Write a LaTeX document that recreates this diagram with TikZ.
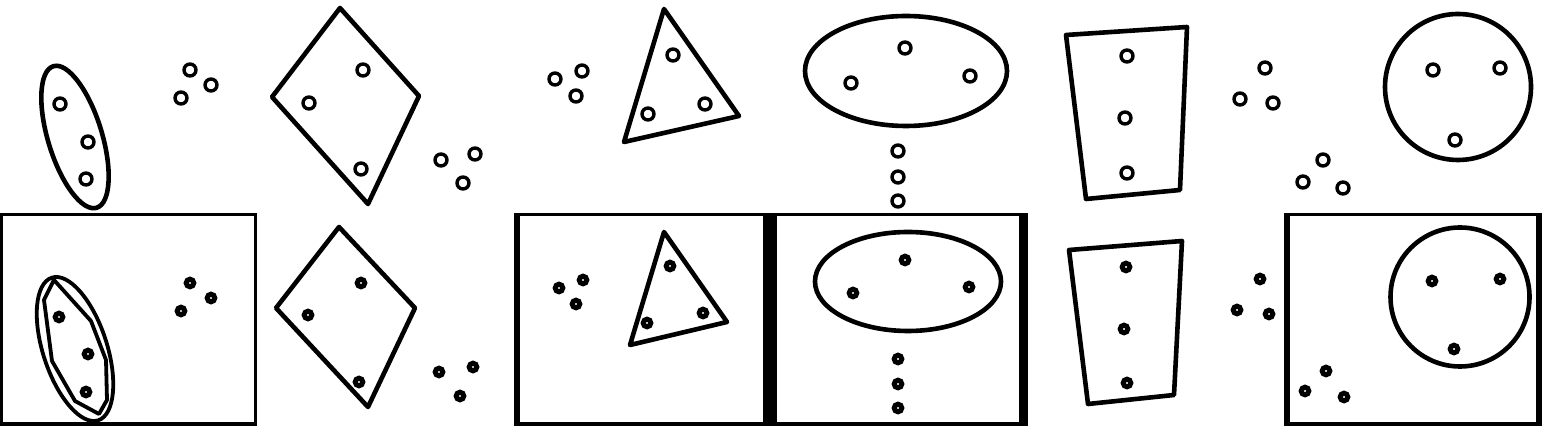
\documentclass[tikz,border=0pt]{standalone}
\tikzset{
  outline/.style={line width=2.3pt, line join=round},
  lowline/.style={line width=1.9pt, line join=round},
  dot/.style={line width=1.7pt},
  bdot/.style={line width=2.5pt}
}
\begin{document}
\begin{tikzpicture}[x=0.5pt,y=-0.5pt]
		\useasboundingbox (0,0) rectangle (1542,426);
		\def\frameone{(0,213) rectangle (257,426)}
		\def\frametwo{(514,213) rectangle (1028,426)}
		\def\framethree{(1284,213) rectangle (1542,426)}
		% frames of the lower row
		\fill \frameone;
		\fill \frametwo;
		\fill \framethree;
		\fill[white] (3,216) rectangle (254,422);
		\fill[white] (520,216) rectangle (763,422);
		\fill[white] (777,216) rectangle (1019,422);
		\fill[white] (1290,216) rectangle (1536,422);
		% upper row
		\draw[outline, rotate around={17:(75,137)}] (75,137) ellipse [x radius=27, y radius=74];
		\draw[outline] (340,8) -- (419,96) -- (368,204) -- (272,97) -- cycle;
		\draw[outline] (664,9) -- (739,116) -- (624,142) -- cycle;
		\draw[outline] (906,71) ellipse [x radius=101, y radius=55];
		\draw[outline] (1066,35) -- (1187,27) -- (1180,190) -- (1086,199) -- cycle;
		\draw[outline] (1458,87) circle (73);
		\foreach \p in {(60,104),(88,142),(86,179),(190,70),(211,85),(181,98),
		  (363,70),(309,103),(361,169),(441,160),(475,154),(463,183),
		  (555,79),(582,71),(576,96),(673,55),(648,114),(705,104),
		  (905,48),(851,83),(970,76),(898,151),(898,177),(898,201),
		  (1127,56),(1125,118),(1127,173),(1265,68),(1240,99),(1273,103),
		  (1323,160),(1303,182),(1343,188),(1433,70),(1500,68),(1455,140)}
		  \draw[dot] \p circle (6);
		% lower row
		\draw[lowline, rotate around={18:(75,349)}] (75,349) ellipse [x radius=32, y radius=75];
		\draw[lowline] (54,280) -- (91,321) -- (106,360) -- (107,400) -- (99,414) -- (75,401) -- (52,361) -- (44,300) -- cycle;
		\draw[outline] (339,227) -- (415,308) -- (368,407) -- (276,308) -- cycle;
		\draw[outline] (664,232) -- (727,322) -- (630,345) -- cycle;
		\draw[outline] (908,281.5) ellipse [x radius=93, y radius=49.5];
		\draw[outline] (1069,250) -- (1182,241) -- (1174,395) -- (1088,404) -- cycle;
		\draw[outline] (1460,297) circle (69.5);
		\foreach \p in {(59,317),(88,354),(86,392),(190,283),(211,298),(181,311),
		  (361,283),(308,315),(359,382),(439,372),(473,367),(460,396),
		  (559,288),(583,280),(576,304),(670,266),(647,323),(703,313),
		  (905,260),(853,293),(969,287),(898,359),(898,384),(898,408),
		  (1126,267),(1124,329),(1127,383),(1260,279),(1237,310),(1269,314),
		  (1326,371),(1305,391),(1344,397),(1432,281),(1500,279),(1454,349)}
		  \draw[bdot] \p circle (3.8);
	\end{tikzpicture}
\end{document}
